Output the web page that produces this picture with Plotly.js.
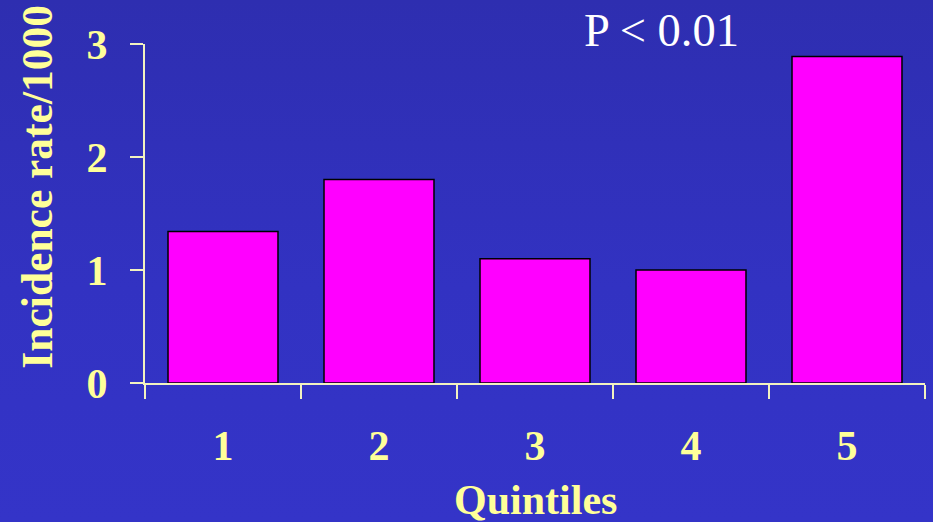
<!DOCTYPE html>
<html>
<head>
<meta charset="utf-8">
<script src="https://cdn.plot.ly/plotly-3.0.1.min.js"></script>
<style>html,body{margin:0;padding:0;background:#3131be;}#chart{width:933px;height:522px;background:linear-gradient(to bottom,#2e2eb0 0%,#3232c2 55%,#3434c8 100%);}</style>
</head>
<body>
<div id="chart"></div>
<script>
const categories = ['1', '2', '3', '4', '5'];
const incidence = [1.34, 1.80, 1.10, 1.00, 2.89];
const yTicks = [0, 1, 2, 3];
const yTitle = 'Incidence rate/1000';
const xTitle = 'Quintiles';
const pText = 'P < 0.01';

const xPos = categories.map(Number);
const boundaries = [0.5].concat(xPos.map(v => v + 0.5));

const serif = '"Liberation Serif", "Times New Roman", serif';
const yellow = '#ffff99';
const axisCol = '#f2f2c0';
const clear = 'rgba(0,0,0,0)';

const trace = {
  type: 'bar',
  x: xPos,
  y: incidence,
  width: 0.705,
  marker: {color: '#ff00ff', line: {color: '#000000', width: 1.5}},
  hoverinfo: 'skip'
};

const layout = {
  width: 933, height: 522,
  paper_bgcolor: clear, plot_bgcolor: clear,
  margin: {l: 145, r: 8, t: 44, b: 139},
  showlegend: false,
  xaxis: {
    range: [0.5, 5.5], tickmode: 'array', tickvals: boundaries,
    ticktext: boundaries.map(() => ''),
    ticks: 'outside', ticklen: 14, tickwidth: 2, tickcolor: axisCol,
    showline: true, linecolor: axisCol, linewidth: 2,
    showgrid: false, zeroline: false, fixedrange: true
  },
  xaxis2: {
    overlaying: 'x', anchor: 'y', side: 'bottom',
    range: [0.5, 5.5], tickmode: 'array', tickvals: xPos, ticktext: categories,
    ticks: '', showline: false, showgrid: false, zeroline: false,
    ticklabelstandoff: 34,
    tickfont: {family: serif, size: 42, color: yellow, weight: 'bold'}
  },
  yaxis: {
    range: [0, 3], tickmode: 'array', tickvals: yTicks, ticktext: yTicks.map(String),
    ticks: 'outside', ticklen: 13, tickwidth: 2, tickcolor: axisCol,
    showline: true, linecolor: axisCol, linewidth: 2,
    showgrid: false, zeroline: false,
    ticklabelstandoff: 14,
    tickfont: {family: serif, size: 42, color: yellow, weight: 'bold'}
  },
  annotations: [
    {text: yTitle, xref: 'paper', yref: 'paper', x: -0.139, y: 0.578,
     xanchor: 'center', yanchor: 'middle', textangle: -90, showarrow: false,
     font: {family: serif, size: 43.5, color: yellow, weight: 'bold'}},
    {text: xTitle, xref: 'paper', yref: 'paper', x: 0.5, y: -0.345,
     xanchor: 'center', yanchor: 'middle', showarrow: false,
     font: {family: serif, size: 42, color: yellow, weight: 'bold'}},
    {text: pText, xref: 'paper', yref: 'paper', x: 0.662, y: 1.04,
     xanchor: 'center', yanchor: 'middle', showarrow: false,
     font: {family: serif, size: 46.5, color: '#ffffff'}}
  ]
};

// placeholder trace so the label axis is drawn
const labelTrace = {type: 'scatter', x: xPos, y: xPos.map(() => null), xaxis: 'x2', yaxis: 'y', hoverinfo: 'skip', showlegend: false};

Plotly.newPlot('chart', [trace, labelTrace], layout, {staticPlot: true, displayModeBar: false});
</script>
</body>
</html>
